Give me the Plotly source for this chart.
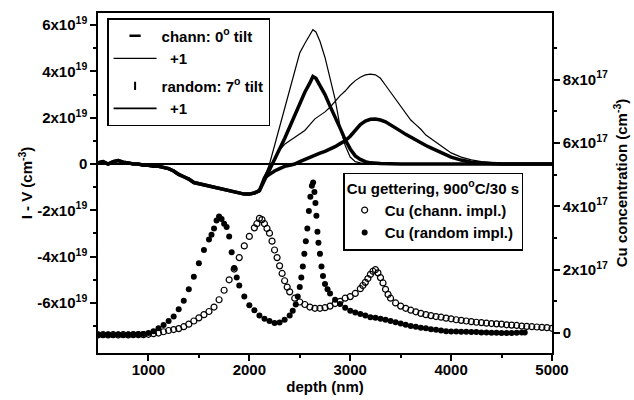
import plotly.graph_objects as go

# ---------------- data ----------------
# I-V profiles (units of 1e19 cm^-3), common part before curves split
iv_depth_common = [500, 550, 600, 650, 700, 750, 800, 850, 900, 950, 1000, 1050, 1100, 1150,
                   1200, 1250, 1300, 1350, 1400, 1450, 1500, 1550, 1600, 1650, 1700, 1750,
                   1800, 1850, 1900, 1950, 2000, 2050, 2100]
iv_common = [0.05, 0.1, 0.0, 0.1, 0.15, 0.08, 0.05, 0.0, 0.0, -0.05, -0.05, -0.1, -0.1, -0.15,
             -0.2, -0.3, -0.45, -0.55, -0.65, -0.8, -0.85, -0.9, -0.92, -0.97, -1.05, -1.1,
             -1.15, -1.2, -1.25, -1.3, -1.3, -1.25, -1.15]

chann_depth = [2150, 2200, 2250, 2300, 2350, 2400, 2450, 2500, 2550, 2600, 2650, 2700, 2750,
               2800, 2850, 2900, 2950, 3000, 3050, 3100, 3150, 3200, 3250, 3300, 3350, 3400,
               3450, 3500, 3550, 3600, 3650, 3700, 3750, 3800, 3850, 3900, 3950, 4000, 4100,
               4200, 4300, 4400, 4500, 4750, 5000]
chann_iv = [-0.6, -0.45, -0.3, -0.2, -0.1, -0.05, 0.0, 0.1, 0.2, 0.28, 0.37, 0.47, 0.55,
            0.63, 0.75, 0.88, 1.0, 1.2, 1.45, 1.7, 1.85, 1.93, 1.94, 1.9, 1.82, 1.7,
            1.55, 1.42, 1.28, 1.15, 1.03, 0.92, 0.8, 0.7, 0.6, 0.5, 0.4, 0.3, 0.17,
            0.08, 0.04, 0.02, 0.0, 0.0, 0.0]
chann_p1_iv = [-0.5, -0.1, 0.2, 0.6, 0.85, 1.0, 1.15, 1.3, 1.45, 1.7, 1.95, 2.1, 2.25,
               2.45, 2.7, 2.95, 3.15, 3.4, 3.6, 3.75, 3.85, 3.88, 3.85, 3.7, 3.4, 3.1,
               2.75, 2.45, 2.15, 1.9, 1.7, 1.5, 1.25, 1.1, 0.92, 0.78, 0.62, 0.48, 0.3,
               0.18, 0.1, 0.05, 0.02, 0.0, 0.0]

random_depth = [2150, 2200, 2250, 2300, 2350, 2400, 2450, 2500, 2550, 2600, 2630, 2660, 2700,
                2750, 2800, 2850, 2900, 2950, 3000, 3050, 3100, 3150, 3200, 3300, 3500, 4000,
                4500, 5000]
random_iv = [-0.7, -0.3, 0.2, 0.6, 1.1, 1.6, 2.1, 2.6, 3.1, 3.5, 3.78, 3.7, 3.4,
             3.0, 2.5, 2.05, 1.55, 1.05, 0.65, 0.35, 0.2, 0.1, 0.05, 0.02, 0.0, 0.0,
             0.0, 0.0]
random_p1_iv = [-0.6, 0.0, 0.8, 1.6, 2.3, 3.2, 4.0, 4.8, 5.2, 5.6, 5.8, 5.7, 5.3,
                4.6, 3.7, 2.8, 1.6, 0.8, 0.3, 0.1, 0.05, 0.03, 0.02, 0.0, 0.0, 0.0,
                0.0, 0.0]

# Cu concentration (units of 1e17 cm^-3)
cu_chann_depth = [500, 550, 600, 650, 700, 750, 800, 850, 900, 950, 1000, 1050, 1100, 1150,
                  1200, 1250, 1300, 1350, 1400, 1450, 1500, 1550, 1600, 1650, 1700, 1750,
                  1800, 1850, 1900, 1950, 2000, 2050, 2075, 2100, 2125, 2150, 2175, 2200,
                  2225, 2250, 2275, 2300, 2325, 2350, 2375, 2400, 2450, 2500, 2550, 2600,
                  2650, 2700, 2750, 2800, 2850, 2900, 2950, 3000, 3050, 3100, 3125, 3150,
                  3175, 3200, 3225, 3250, 3275, 3300, 3325, 3350, 3375, 3400, 3450, 3500,
                  3550, 3600, 3650, 3700, 3750, 3800, 3850, 3900, 3950, 4000, 4050, 4100,
                  4150, 4200, 4250, 4300, 4350, 4400, 4450, 4500, 4550, 4600, 4650, 4700,
                  4750, 4800, 4850, 4900, 4950, 5000]
cu_chann = [-0.06, -0.05, -0.06, -0.05, -0.06, -0.05, -0.06, -0.05, -0.05, -0.05, -0.04,
            -0.02, 0.0, 0.04, 0.08, 0.11, 0.14, 0.2, 0.28, 0.38, 0.48, 0.58, 0.68, 0.82,
            1.05, 1.35, 1.68, 2.02, 2.38, 2.75, 3.05, 3.32, 3.45, 3.62, 3.58, 3.45, 3.3,
            3.15, 2.9, 2.62, 2.38, 2.12, 1.88, 1.65, 1.45, 1.3, 1.1, 0.98, 0.9, 0.82,
            0.78, 0.78, 0.8, 0.85, 0.93, 1.0, 1.1, 1.15, 1.25, 1.4, 1.5, 1.6, 1.72, 1.85,
            1.95, 2.0, 1.9, 1.75, 1.58, 1.38, 1.22, 1.1, 0.95, 0.85, 0.78, 0.72, 0.67,
            0.62, 0.58, 0.55, 0.52, 0.5, 0.47, 0.45, 0.42, 0.4, 0.38, 0.36, 0.34, 0.33,
            0.31, 0.3, 0.29, 0.28, 0.26, 0.25, 0.24, 0.22, 0.21, 0.2, 0.19, 0.18, 0.17,
            0.15]

cu_random_depth = [500, 550, 600, 650, 700, 750, 800, 850, 900, 950, 1000, 1050, 1100, 1150,
                   1200, 1250, 1300, 1350, 1400, 1450, 1500, 1550, 1600, 1625, 1650, 1675,
                   1700, 1725, 1750, 1775, 1800, 1825, 1850, 1875, 1900, 1950, 2000, 2050,
                   2100, 2150, 2200, 2250, 2300, 2350, 2400, 2430, 2460, 2480, 2500, 2515,
                   2530, 2545, 2560, 2575, 2590, 2605, 2620, 2632, 2645, 2655, 2665, 2675,
                   2685, 2700, 2715, 2730, 2750, 2775, 2800, 2850, 2900, 2950, 3000, 3050,
                   3100, 3150, 3200, 3250, 3300, 3350, 3400, 3450, 3500, 3550, 3600, 3650,
                   3700, 3750, 3800, 3850, 3900, 3950, 4000, 4050, 4100, 4150, 4200, 4250,
                   4300, 4350, 4400, 4450, 4500, 4550, 4600, 4650, 4700, 4730]
cu_random = [-0.05, -0.06, -0.05, -0.06, -0.05, -0.06, -0.05, -0.05, -0.04, -0.03, 0.0,
             0.06, 0.15, 0.25, 0.38, 0.52, 0.75, 1.02, 1.38, 1.78, 2.2, 2.62, 2.95, 3.1,
             3.3, 3.55, 3.68, 3.6, 3.45, 3.35, 3.05, 2.55, 2.05, 1.75, 1.5, 1.15, 0.88,
             0.72, 0.55, 0.45, 0.38, 0.32, 0.33, 0.42, 0.55, 0.7, 0.9, 1.15, 1.45, 1.75,
             2.1, 2.5, 2.9, 3.3, 3.85, 4.3, 4.65, 4.75, 4.45, 4.1, 3.7, 3.2, 2.85, 2.5,
             2.1, 1.8, 1.55, 1.38, 1.25, 1.05, 0.92, 0.8, 0.7, 0.65, 0.6, 0.55, 0.5, 0.48,
             0.45, 0.42, 0.38, 0.34, 0.3, 0.26, 0.22, 0.2, 0.17, 0.15, 0.12, 0.1, 0.08,
             0.06, 0.05, 0.05, 0.04, 0.04, 0.03, 0.03, 0.02, 0.02, 0.01, 0.01, 0.0, 0.0,
             0.0, 0.01, 0.02, 0.02]

# tick labels
x_ticks = [1000, 2000, 3000, 4000, 5000]
y_ticks = [-6, -4, -2, 0, 2, 4, 6]
y_ticktext = ["-6x10<sup>19</sup>", "-4x10<sup>19</sup>", "-2x10<sup>19</sup>", "0",
              "2x10<sup>19</sup>", "4x10<sup>19</sup>", "6x10<sup>19</sup>"]
y2_ticks = [0, 2, 4, 6, 8]
y2_ticktext = ["0", "2x10<sup>17</sup>", "4x10<sup>17</sup>", "6x10<sup>17</sup>",
               "8x10<sup>17</sup>"]

FONT = "Liberation Sans, Arial, sans-serif"
FS = 15
BLACK = "black"
TXT = dict(family=FONT, size=FS, color=BLACK, weight="bold")

fig = go.Figure()

chann_x = iv_depth_common + chann_depth
random_x = iv_depth_common + random_depth

# I-V curves (left axis)
fig.add_trace(go.Scatter(x=chann_x, y=iv_common + chann_iv, mode="lines",
                         line=dict(color=BLACK, width=3.5), showlegend=False))
fig.add_trace(go.Scatter(x=random_x, y=iv_common + random_iv, mode="lines",
                         line=dict(color=BLACK, width=3.5), showlegend=False))
fig.add_trace(go.Scatter(x=chann_x, y=iv_common + chann_p1_iv, mode="lines",
                         line=dict(color=BLACK, width=1.2), showlegend=False))
fig.add_trace(go.Scatter(x=random_x, y=iv_common + random_p1_iv, mode="lines",
                         line=dict(color=BLACK, width=1.2), showlegend=False))

# legend-only entries for I-V
fig.add_trace(go.Scatter(x=[None], y=[None], mode="markers", name="chann: 0<sup>o</sup> tilt",
                         legendgroup="chann", legend="legend",
                         marker=dict(symbol="line-ew-open", size=8, color=BLACK,
                                     line=dict(width=2.5, color=BLACK))))
fig.add_trace(go.Scatter(x=[None], y=[None], mode="lines", name="  +1",
                         legendgroup="chann", legend="legend",
                         line=dict(color=BLACK, width=1.2)))
fig.add_trace(go.Scatter(x=[None], y=[None], mode="markers", name="random: 7<sup>o</sup> tilt",
                         legendgroup="random", legend="legend",
                         marker=dict(symbol="line-ns-open", size=6, color=BLACK,
                                     line=dict(width=2, color=BLACK))))
fig.add_trace(go.Scatter(x=[None], y=[None], mode="lines", name="  +1",
                         legendgroup="random", legend="legend",
                         line=dict(color=BLACK, width=1.6)))

# Cu profiles (right axis)
fig.add_trace(go.Scatter(x=cu_chann_depth, y=cu_chann, mode="markers", yaxis="y2",
                         name="Cu (chann. impl.)", legend="legend2",
                         marker=dict(symbol="circle-open", size=6, color=BLACK,
                                     line=dict(width=1.2, color=BLACK))))
fig.add_trace(go.Scatter(x=cu_random_depth, y=cu_random, mode="markers", yaxis="y2",
                         name="Cu (random impl.)", legend="legend2",
                         marker=dict(symbol="circle", size=6, color=BLACK)))

axis_common = dict(showgrid=False, showline=True, linecolor=BLACK, linewidth=1.5,
                   ticks="outside", ticklen=6, tickwidth=1.5, tickcolor=BLACK,
                   tickfont=TXT, automargin=False)

fig.update_layout(
    width=634, height=400,
    margin=dict(l=98, r=82, t=13, b=47),
    paper_bgcolor="white", plot_bgcolor="white",
    font=TXT,
    xaxis=dict(range=[500, 5000], tickvals=x_ticks, mirror=True, zeroline=False,
               ticklabelstandoff=-4,
               title=dict(text="depth (nm)", standoff=0, font=TXT),
               minor=dict(tickvals=[1500, 2500, 3500, 4500], ticks="outside", ticklen=3,
                          tickwidth=1.5, tickcolor=BLACK),
               **axis_common),
    yaxis=dict(range=[-8.16, 6.52], tickvals=y_ticks, ticktext=y_ticktext,
               title=dict(text="I - V (cm<sup>-3</sup>)", standoff=1, font=TXT),
               minor=dict(tickvals=[-7, -5, -3, -1, 1, 3, 5], ticks="outside", ticklen=3,
                          tickwidth=1.5, tickcolor=BLACK),
               zeroline=True, zerolinecolor=BLACK, zerolinewidth=1.5,
               **axis_common),
    yaxis2=dict(range=[-0.63, 10.1], overlaying="y", side="right", anchor="x",
                tickvals=y2_ticks, ticktext=y2_ticktext, zeroline=False,
                title=dict(text="Cu concentration (cm<sup>-3</sup>)", standoff=10, font=TXT),
                minor=dict(tickvals=[1, 3, 5, 7, 9], ticks="outside", ticklen=3,
                           tickwidth=1.5, tickcolor=BLACK),
                **axis_common),
    legend=dict(x=0.02, y=0.985, xanchor="left", yanchor="top",
                bgcolor="white", bordercolor=BLACK, borderwidth=1.5,
                font=TXT, tracegroupgap=5, itemwidth=43),
    legend2=dict(x=0.54, y=0.53, xanchor="left", yanchor="top",
                 bgcolor="white", bordercolor=BLACK, borderwidth=1.5,
                 font=TXT,
                 title=dict(text="Cu gettering, 900<sup>o</sup>C/30 s", font=TXT)),
)

fig.write_html("out.html")
